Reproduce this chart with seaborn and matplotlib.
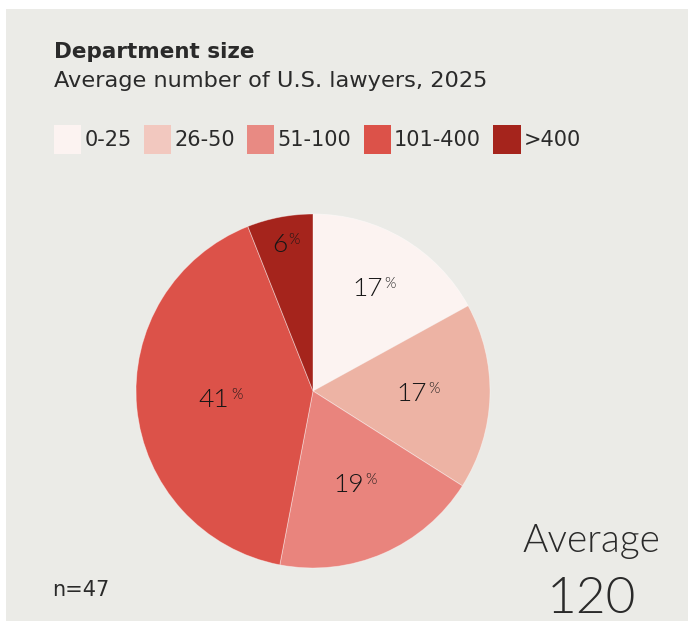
import matplotlib
matplotlib.use('Agg')
import matplotlib.pyplot as plt
import numpy as np
import seaborn as sns
from matplotlib.patches import Patch, Rectangle

# data
categories = ['0-25', '26-50', '51-100', '101-400', '>400']
shares = [17, 17, 19, 41, 6]
slice_colors = ['#FCF3F1', '#EDB3A4', '#E9847D', '#DC5249', '#A5241C']
legend_colors = ['#FCF3F1', '#F2C8BF', '#E88A83', '#DC5249', '#A5241C']
label_dist = [0.67, 0.59, 0.58, 0.53, 0.84]
n_resp = 47
average = 120

sns.set_theme(style='white')
plt.rcParams['font.family'] = ['DejaVu Sans']
text_col = '#2A2A2A'
num_font = ['Lato', 'DejaVu Sans']
W, H = 688, 623

fig = plt.figure(figsize=(W / 100, H / 100), dpi=100, facecolor='white')
fig.patches.append(Rectangle((6 / W, 1 - 621 / H), 682 / W, 612 / H,
                             transform=fig.transFigure, facecolor='#EBEBE7',
                             edgecolor='none', zorder=-1))

# pie: center (313, 391), radius 177 px
ax = fig.add_axes([(313 - 177) / W, 1 - 568 / H, 354 / W, 354 / H])
wedges, _ = ax.pie(shares, colors=slice_colors, startangle=90, counterclock=False,
                   radius=1, wedgeprops=dict(edgecolor=(1, 1, 1, 0.45), linewidth=0.6))
ax.set_xlim(-1, 1)
ax.set_ylim(-1, 1)
ax.set_aspect('equal')
ax.axis('off')

for w, v, d in zip(wedges, shares, label_dist):
    mid = np.deg2rad((w.theta1 + w.theta2) / 2)
    t = ax.annotate(str(v), xy=(d * np.cos(mid), d * np.sin(mid)), xytext=(-4, 0),
                    textcoords='offset points', ha='center', va='center',
                    fontsize=19, color='#161616', family=num_font, fontweight=300)
    ax.annotate('%', xy=(1, 1), xycoords=t, xytext=(1, 0), textcoords='offset points',
                ha='left', va='top', fontsize=10.5, color='#161616', family=num_font,
                fontweight=300)

# titles
fig.text(54 / W, 1 - 58 / H, 'Department size', fontsize=15.5, fontweight='bold',
         color=text_col, va='baseline')
fig.text(54 / W, 1 - 87 / H, 'Average number of U.S. lawyers, 2025', fontsize=16.2,
         color=text_col, va='baseline')

handles = [Patch(facecolor=c, edgecolor='none') for c in legend_colors]
fig.legend(handles, categories, loc='upper left', bbox_to_anchor=(54 / W, 1 - 125 / H),
           ncol=5, frameon=False, fontsize=15, handlelength=1.3, handleheight=1.8,
           handletextpad=0.15, columnspacing=0.6, borderpad=0, borderaxespad=0,
           labelcolor=text_col)

fig.text(52 / W, 1 - 596 / H, f'n={n_resp}', fontsize=15, color=text_col, va='baseline')
fig.text(591 / W, 1 - 552 / H, 'Average', fontsize=28, color=text_col, va='baseline',
         ha='center', family=num_font, fontweight=300)
fig.text(591 / W, 1 - 613 / H, str(average), fontsize=37, color=text_col, va='baseline',
         ha='center', family=num_font, fontweight=300)

fig.savefig('out.png', dpi=100, facecolor='white')
